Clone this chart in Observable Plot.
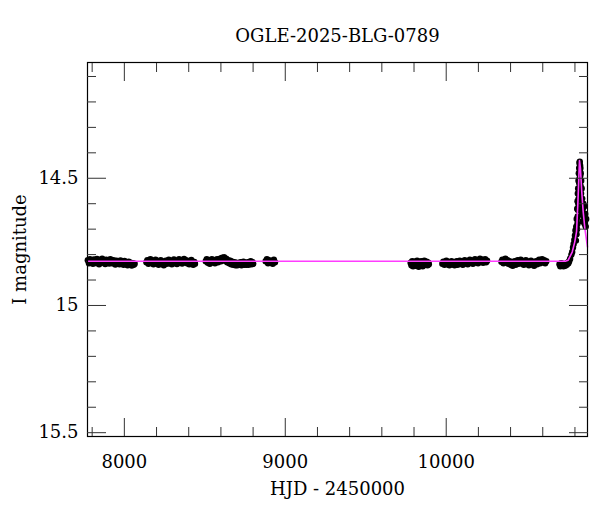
<!DOCTYPE html>
<html><head><meta charset="utf-8">
<script src="https://cdn.jsdelivr.net/npm/d3@7"></script>
<script src="https://cdn.jsdelivr.net/npm/@observablehq/plot@0.6"></script>
<style>body{margin:0;background:#fff}</style>
</head><body><div id="chart"></div>
<script>
const title = "OGLE-2025-BLG-0789";
const xLabel = "HJD - 2450000";
const yLabel = "I magnitude";
const xDomain = [7771, 10878];
const yDomain = [14.045, 15.515];
const xMajor = [8000, 9000, 10000];
const xMinor = [7800, 8200, 8400, 8600, 8800, 9200, 9400, 9600, 9800, 10200, 10400, 10600, 10800];
const yMajor = [14.5, 15, 15.5];
const yMinor = [14.1, 14.2, 14.3, 14.4, 14.6, 14.7, 14.8, 14.9, 15.1, 15.2, 15.3, 15.4];

const season1 = [[7773,14.822],[7780,14.834],[7786,14.818],[7792,14.830],[7799,14.824],[7805,14.836],[7811,14.819],[7818,14.828],[7824,14.833],[7830,14.817],[7837,14.826],[7843,14.838],[7849,14.821],[7856,14.829],[7862,14.816],[7868,14.832],[7875,14.825],[7881,14.837],[7887,14.820],[7894,14.830],[7900,14.823],[7906,14.835],[7913,14.818],[7919,14.829],[7925,14.834],[7932,14.822],[7938,14.827],[7944,14.839],[7951,14.824],[7957,14.831],[7963,14.826],[7970,14.838],[7976,14.823],[7982,14.833],[7989,14.828],[7995,14.840],[8001,14.825],[8008,14.835],[8014,14.830],[8020,14.842],[8027,14.828],[8033,14.838],[8039,14.832],[8046,14.843],[8052,14.834],[8058,14.840],[8064,14.836]];
const season2 = [[8137,14.830],[8143,14.822],[8150,14.836],[8156,14.826],[8162,14.818],[8169,14.832],[8175,14.824],[8181,14.838],[8188,14.828],[8194,14.820],[8200,14.834],[8207,14.826],[8213,14.840],[8219,14.830],[8226,14.822],[8232,14.836],[8238,14.828],[8245,14.842],[8251,14.832],[8257,14.824],[8264,14.836],[8270,14.828],[8276,14.820],[8283,14.834],[8289,14.826],[8295,14.838],[8302,14.830],[8308,14.819],[8314,14.833],[8321,14.825],[8327,14.837],[8333,14.827],[8340,14.818],[8346,14.831],[8352,14.823],[8359,14.835],[8365,14.826],[8371,14.817],[8378,14.830],[8384,14.822],[8390,14.834],[8397,14.826],[8403,14.838],[8409,14.828],[8416,14.821],[8422,14.833],[8428,14.840],[8435,14.829],[8439,14.836]];
const season3 = [[8506,14.826],[8512,14.818],[8519,14.832],[8525,14.822],[8531,14.836],[8538,14.826],[8544,14.818],[8550,14.830],[8557,14.822],[8563,14.834],[8569,14.826],[8576,14.818],[8582,14.830],[8588,14.820],[8595,14.816],[8601,14.826],[8607,14.812],[8614,14.820],[8620,14.810],[8626,14.824],[8633,14.816],[8639,14.830],[8645,14.822],[8652,14.834],[8658,14.824],[8664,14.838],[8671,14.828],[8677,14.840],[8683,14.830],[8690,14.842],[8696,14.832],[8702,14.842],[8709,14.834],[8715,14.840],[8721,14.830],[8728,14.842],[8734,14.836],[8740,14.828],[8747,14.840],[8753,14.834],[8759,14.840],[8766,14.830],[8772,14.840],[8778,14.834],[8785,14.826],[8791,14.838],[8797,14.830],[8801,14.836]];
const season4 = [[8878,14.826],[8886,14.818],[8893,14.834],[8900,14.822],[8907,14.830],[8915,14.826],[8922,14.836],[8929,14.820],[8936,14.830]];
const season5 = [[9779,14.832],[9784,14.842],[9789,14.826],[9794,14.846],[9799,14.836],[9804,14.828],[9809,14.844],[9814,14.834],[9819,14.824],[9824,14.840],[9829,14.848],[9834,14.830],[9839,14.842],[9844,14.826],[9849,14.838],[9854,14.846],[9859,14.832],[9864,14.824],[9869,14.840],[9874,14.834],[9879,14.828],[9884,14.842],[9889,14.832],[9892,14.838]];
const season6 = [[9976,14.836],[9982,14.828],[9989,14.840],[9995,14.832],[10001,14.824],[10008,14.838],[10014,14.830],[10020,14.842],[10027,14.834],[10033,14.826],[10039,14.838],[10046,14.830],[10052,14.842],[10058,14.834],[10065,14.826],[10071,14.840],[10077,14.832],[10084,14.824],[10090,14.836],[10096,14.828],[10103,14.840],[10109,14.830],[10115,14.822],[10122,14.834],[10128,14.826],[10134,14.838],[10141,14.828],[10147,14.820],[10153,14.832],[10160,14.824],[10166,14.836],[10172,14.826],[10179,14.818],[10185,14.830],[10191,14.822],[10198,14.834],[10204,14.824],[10210,14.816],[10217,14.828],[10223,14.820],[10229,14.832],[10236,14.824],[10242,14.818],[10248,14.830],[10254,14.824]];
const season7 = [[10343,14.828],[10349,14.820],[10356,14.834],[10362,14.824],[10368,14.816],[10375,14.830],[10381,14.822],[10387,14.836],[10394,14.826],[10400,14.840],[10406,14.830],[10413,14.844],[10419,14.834],[10425,14.826],[10432,14.840],[10438,14.832],[10444,14.822],[10451,14.836],[10457,14.828],[10463,14.820],[10470,14.834],[10476,14.826],[10482,14.840],[10489,14.830],[10495,14.822],[10501,14.836],[10508,14.828],[10514,14.842],[10520,14.832],[10527,14.824],[10533,14.838],[10539,14.830],[10546,14.844],[10552,14.834],[10558,14.826],[10565,14.838],[10571,14.828],[10577,14.820],[10584,14.834],[10590,14.826],[10596,14.818],[10603,14.830],[10609,14.822],[10615,14.834],[10622,14.826]];
const season8 = [[10704,14.838],[10709,14.846],[10714,14.834],[10719,14.844],[10724,14.836],[10729,14.846],[10734,14.838],[10739,14.844],[10744,14.836],[10749,14.840],[10754,14.832],[10759,14.834],[10764,14.826],[10770,14.816],[10778,14.800],[10783,14.790],[10788,14.772],[10792,14.758],[10796,14.742],[10800,14.725],[10803,14.705],[10806,14.745],[10808,14.690],[10810,14.720],[10811,14.660],[10813,14.700],[10814,14.620],[10815,14.680],[10816,14.590],[10817,14.650],[10818,14.560],[10819,14.625],[10820,14.540],[10821,14.600],[10822,14.510],[10823,14.580],[10824,14.480],[10825,14.555],[10826,14.460],[10827,14.520],[10828,14.440],[10829,14.500],[10830,14.435],[10831,14.470],[10832,14.450],[10833,14.490],[10834,14.460],[10835,14.530],[10836,14.480],[10838,14.560],[10839,14.510],[10841,14.600],[10842,14.540],[10844,14.640],[10845,14.580],[10847,14.670],[10849,14.620],[10852,14.600],[10855,14.650],[10858,14.610],[10861,14.680],[10864,14.640],[10867,14.690],[10870,14.660]];

// model curve
const modelHJD = [7771, 10740, 10758, 10783, 10799, 10810, 10818, 10824, 10828, 10834, 10842, 10851, 10862, 10878];
const modelMag = [14.826, 14.826, 14.822, 14.79, 14.75, 14.71, 14.60, 14.50, 14.43, 14.46, 14.55, 14.63, 14.70, 14.77];

const obs = [season1, season2, season3, season4, season5, season6, season7, season8].flat().map(([t, m]) => ({t, m}));
const model = modelHJD.map((t, i) => ({t, m: modelMag[i]}));

const tickStroke = "#333";
const noText = () => "";
const fs = 18;

const chart = Plot.plot({
  width: 600, height: 512,
  marginLeft: 87, marginRight: 13, marginTop: 62, marginBottom: 76,
  style: {fontFamily: "'DejaVu Serif', serif", fontSize: fs + "px", background: "white", color: "black"},
  x: {domain: xDomain},
  y: {domain: yDomain, reverse: true},
  marks: [
    Plot.dot(obs, {x: "t", y: "m", r: 3.2, fill: "black", stroke: null}),
    Plot.line(model, {x: "t", y: "m", stroke: "#ff3cff", strokeWidth: 1.6}),
    Plot.frame({stroke: "black", strokeWidth: 1.2}),
    Plot.axisX({ticks: xMajor, anchor: "bottom", tickSize: -18, tickFormat: noText, label: null, stroke: tickStroke}),
    Plot.axisX({ticks: xMinor, anchor: "bottom", tickSize: -9, tickFormat: noText, label: null, stroke: tickStroke}),
    Plot.axisX({ticks: xMajor, anchor: "top", tickSize: -18, tickFormat: noText, label: null, stroke: tickStroke}),
    Plot.axisX({ticks: xMinor, anchor: "top", tickSize: -9, tickFormat: noText, label: null, stroke: tickStroke}),
    Plot.axisY({ticks: yMajor, anchor: "left", tickSize: -19, tickFormat: noText, label: null, stroke: tickStroke}),
    Plot.axisY({ticks: yMinor, anchor: "left", tickSize: -9, tickFormat: noText, label: null, stroke: tickStroke}),
    Plot.axisY({ticks: yMajor, anchor: "right", tickSize: -19, tickFormat: noText, label: null, stroke: tickStroke}),
    Plot.axisY({ticks: yMinor, anchor: "right", tickSize: -9, tickFormat: noText, label: null, stroke: tickStroke}),
    Plot.axisX({ticks: xMajor, anchor: "bottom", tickSize: 0, tickPadding: 19, tickFormat: d => String(d), label: null, fontSize: fs}),
    Plot.axisY({ticks: yMajor, anchor: "left", tickSize: 0, tickPadding: 9, tickFormat: d => String(d), label: null, fontSize: fs}),
    Plot.text([title], {text: d => d, frameAnchor: "top", lineAnchor: "middle", dy: -26, fontSize: fs}),
    Plot.text([xLabel], {text: d => d, frameAnchor: "bottom", lineAnchor: "middle", dy: 53, fontSize: fs}),
    Plot.text([yLabel], {text: d => d, frameAnchor: "left", textAnchor: "middle", lineAnchor: "middle", dx: -67, rotate: -90, fontSize: fs})
  ]
});
document.getElementById("chart").appendChild(chart);
</script>
</body></html>
